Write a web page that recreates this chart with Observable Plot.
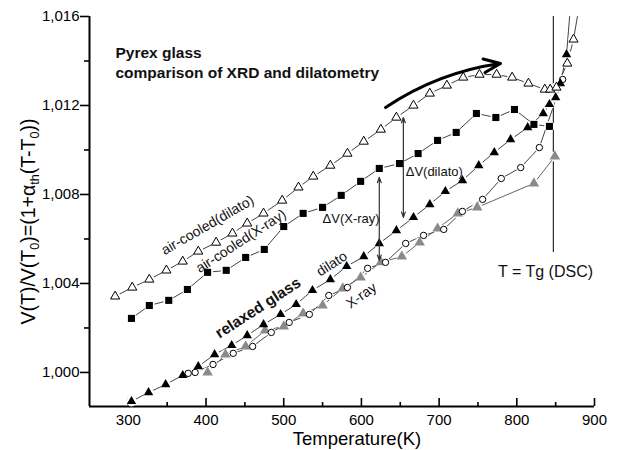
<!DOCTYPE html>
<html>
<head>
<meta charset="utf-8">
<script src="https://cdn.jsdelivr.net/npm/d3@7"></script>
<script src="https://cdn.jsdelivr.net/npm/@observablehq/plot@0.6"></script>
<style>
  html, body { margin: 0; padding: 0; background: #fff; }
  #chart svg { display: block; }
</style>
</head>
<body>
<div id="chart"></div>
<script>
// ---------- axes ----------
const xTicks = [300, 400, 500, 600, 700, 800, 900];
const xMinorTicks = [350, 450, 550, 650, 750, 850];
const yTicks = [1.000, 1.004, 1.008, 1.012, 1.016];
const yTickLabels = ["1,000", "1,004", "1,008", "1,012", "1,016"];
const yMinorTicks = [1.002, 1.006, 1.010, 1.014];
const xDomain = [250, 900];
const yDomain = [0.99847, 1.016];
const xLabel = "Temperature(K)";
const yLabelParts = [["V(T)/V(T", 0], ["0", 1], [")=(1+α", 0], ["th", 1], ["(T-T", 0], ["0", 1], ["))", 0]];

// ---------- series: air-cooled, dilatometry (open triangles) ----------
const airDilatoT = [283, 305, 327, 349, 370, 390, 413, 434, 453, 474, 498, 519, 538, 560, 582, 603, 625, 645, 667, 688, 710, 731, 752, 774, 794, 815, 836, 843, 851, 865, 873];
const airDilatoV = [1.00342, 1.00382, 1.00418, 1.00459, 1.00499, 1.00544, 1.00584, 1.00625, 1.00670, 1.00715, 1.00773, 1.00832, 1.00881, 1.00930, 1.00984, 1.01038, 1.01092, 1.01146, 1.01200, 1.01254, 1.01290, 1.01326, 1.01339, 1.01339, 1.01326, 1.01299, 1.01272, 1.01272, 1.01281, 1.01389, 1.01497];
const airDilatoTailT = [878];
const airDilatoTailV = [1.016];

// ---------- series: air-cooled, X-ray (filled squares) ----------
const airXrayT = [304, 327, 352, 376, 402, 426, 451, 475, 500, 525, 550, 574, 599, 623, 649, 673, 698, 722, 748, 773, 797, 822, 842];
const airXrayV = [1.00243, 1.00301, 1.00324, 1.00373, 1.00450, 1.00459, 1.00517, 1.00553, 1.00656, 1.00715, 1.00742, 1.00796, 1.00859, 1.00917, 1.00939, 1.00984, 1.01043, 1.01079, 1.01164, 1.01146, 1.01182, 1.01115, 1.01106];

// ---------- series: relaxed glass, dilatometry (filled triangles) ----------
const relDilatoT = [304, 326, 348, 370, 390, 411, 433, 453, 474, 496, 516, 537, 560, 581, 603, 623, 645, 667, 688, 708, 730, 751, 771, 792, 814, 834, 842, 850, 856, 864];
const relDilatoV = [0.99870, 0.99910, 0.99946, 0.99987, 1.00027, 1.00081, 1.00122, 1.00166, 1.00216, 1.00261, 1.00306, 1.00369, 1.00418, 1.00477, 1.00521, 1.00580, 1.00638, 1.00697, 1.00755, 1.00814, 1.00863, 1.00930, 1.00989, 1.01047, 1.01101, 1.01164, 1.01205, 1.01236, 1.01299, 1.01429];
const relDilatoTailT = [868];
const relDilatoTailV = [1.016];

// ---------- series: relaxed glass, X-ray (open circles) ----------
const relXrayCircT = [377, 386, 409, 435, 460, 484, 507, 533, 558, 582, 608, 631, 657, 680, 706, 730, 756, 780, 805, 829, 859];
const relXrayCircV = [0.99996, 1.00000, 1.00036, 1.00086, 1.00117, 1.00180, 1.00225, 1.00261, 1.00346, 1.00382, 1.00468, 1.00495, 1.00580, 1.00616, 1.00643, 1.00724, 1.00778, 1.00872, 1.00921, 1.01011, 1.01317];

// ---------- series: relaxed glass, X-ray (grey triangles) ----------
const relXrayTriT = [402, 425, 451, 476, 500, 525, 550, 576, 599, 625, 652, 675, 698, 724, 749, 822, 849];
const relXrayTriV = [1.00000, 1.00081, 1.00117, 1.00189, 1.00207, 1.00265, 1.00301, 1.00378, 1.00427, 1.00495, 1.00521, 1.00584, 1.00647, 1.00715, 1.00742, 1.00850, 1.00971];

// ---------- annotations ----------
const tgT = 847;
const tgLineV = [1.00539, 1.016];
const deltaArrowT = [623, 654];
const deltaArrowTop = [1.00877, 1.01146];
const deltaArrowBottom = [1.00504, 1.00697];
const curvedArrowT = [631, 779];
const curvedArrowV = [1.01191, 1.01389];
const titleText = "Pyrex glass\ncomparison of XRD and dilatometry";
const curveLabelText = ["air-cooled(dilato)", "air-cooled(X-ray)", "dilato", "X-ray"];
const curveLabelT = [402, 445, 562, 600];
const curveLabelV = [1.00662, 1.00590, 1.00488, 1.00346];
const curveLabelAngle = [-30, -33, -33, -36];
const relaxedLabel = {text: "relaxed glass", T: 467, V: 1.00290, angle: -33};
const deltaLabelText = ["ΔV(X-ray)", "ΔV(dilato)"];
const deltaLabelT = [550, 657];
const deltaLabelV = [1.00692, 1.00903];
const tgLabel = {text: "T = Tg (DSC)", T: 837, V: 1.00450};

// ---------- build ----------
const FONT = '"Liberation Sans", Arial, Helvetica, sans-serif';
const rows = (T, V) => T.map((t, i) => ({T: t, V: V[i]}));
const sAirDil = rows(airDilatoT, airDilatoV);
const sAirDilLine = sAirDil.concat(rows(airDilatoTailT, airDilatoTailV));
const sAirX = rows(airXrayT, airXrayV);
const sRelDil = rows(relDilatoT, relDilatoV);
const sRelDilLine = sRelDil.concat(rows(relDilatoTailT, relDilatoTailV));
const sCirc = rows(relXrayCircT, relXrayCircV);
const sGray = rows(relXrayTriT, relXrayTriV);

const halves = [];
deltaArrowT.forEach((t, i) => {
  const mid = (deltaArrowTop[i] + deltaArrowBottom[i]) / 2;
  halves.push({x1: t, y1: mid, x2: t, y2: deltaArrowTop[i]});
  halves.push({x1: t, y1: mid, x2: t, y2: deltaArrowBottom[i]});
});
const curveLabels = curveLabelText.map((t, i) => ({text: t, T: curveLabelT[i], V: curveLabelV[i], a: curveLabelAngle[i]}));
const deltaLabels = deltaLabelText.map((t, i) => ({text: t, T: deltaLabelT[i], V: deltaLabelV[i]}));
const yLabelPlain = yLabelParts.map(p => p[0]).join("");

const lineStroke = "#444";
const halo = (data, r) => Plot.dot(data, {x: "T", y: "V", r, fill: "white", stroke: "none"});

const chart = Plot.plot({
  width: 624,
  height: 450,
  marginLeft: 89,
  marginRight: 30,
  marginTop: 16,
  marginBottom: 44,
  x: {domain: xDomain},
  y: {domain: yDomain},
  style: {fontFamily: FONT, fontSize: "15px", color: "#000", background: "#fff", overflow: "visible"},
  marks: [
    // axes
    Plot.axisY({ticks: yMinorTicks, tickSize: 5, tickFormat: () => "", label: null, strokeWidth: 1.6}),
    Plot.axisY({ticks: yTicks, tickSize: 9, tickPadding: 1, tickFormat: d => yTickLabels[yTicks.indexOf(d)], label: null, strokeWidth: 1.6, fontSize: 15}),
    Plot.axisX({ticks: xMinorTicks, tickSize: -4, tickFormat: () => "", label: null, strokeWidth: 1.6}),
    Plot.axisX({ticks: xTicks, tickSize: -8, tickPadding: 16, tickFormat: d => String(d), label: null, strokeWidth: 1.6, fontSize: 15}),
    Plot.ruleY([yDomain[0]], {strokeWidth: 2}),
    Plot.ruleX([xDomain[0]], {strokeWidth: 2}),
    Plot.text([xLabel], {text: d => d, frameAnchor: "bottom", textAnchor: "middle", dx: 15, dy: 25, lineAnchor: "top", fontSize: 18.5}),
    Plot.text([yLabelPlain], {text: d => d, frameAnchor: "left", textAnchor: "middle", lineAnchor: "middle", rotate: -90, dx: -61, dy: 10, fontSize: 19.5}),

    // Tg line
    Plot.ruleX([tgT], {y1: tgLineV[0], y2: tgLineV[1], stroke: "#000", strokeWidth: 1}),

    // connecting lines
    Plot.line(sAirDilLine, {x: "T", y: "V", stroke: lineStroke, strokeWidth: 1}),
    Plot.line(sAirX, {x: "T", y: "V", stroke: lineStroke, strokeWidth: 1}),
    Plot.line(sRelDilLine, {x: "T", y: "V", stroke: lineStroke, strokeWidth: 1}),
    Plot.line(sCirc, {x: "T", y: "V", stroke: lineStroke, strokeWidth: 1}),
    Plot.line(sGray, {x: "T", y: "V", stroke: "#666", strokeWidth: 1}),

    // gaps around markers
    halo(sAirDil, 5.2), halo(sAirX, 5.4), halo(sRelDil, 5), halo(sCirc, 4.6), halo(sGray, 5.2),

    // markers
    Plot.dot(sGray, {x: "T", y: "V", symbol: "triangle", r: 3.9, fill: "#8a8a8a", stroke: "none"}),
    Plot.dot(sCirc, {x: "T", y: "V", symbol: "circle", r: 3.2, fill: "white", stroke: "#000", strokeWidth: 1}),
    Plot.dot(sRelDil, {x: "T", y: "V", symbol: "triangle", r: 3.5, fill: "#000", stroke: "none"}),
    Plot.dot(sAirX, {x: "T", y: "V", symbol: "square", r: 4, fill: "#000", stroke: "none"}),
    Plot.dot(sAirDil, {x: "T", y: "V", symbol: "triangle", r: 3.4, fill: "white", stroke: "#000", strokeWidth: 1}),

    // delta V arrows
    Plot.arrow(halves, {x1: "x1", y1: "y1", x2: "x2", y2: "y2", stroke: "#333", strokeWidth: 1.2, headLength: 7, headAngle: 40}),

    // curved arrow
    Plot.arrow([{x1: curvedArrowT[0], y1: curvedArrowV[0], x2: curvedArrowT[1], y2: curvedArrowV[1]}],
      {x1: "x1", y1: "y1", x2: "x2", y2: "y2", bend: 13, stroke: "#000", strokeWidth: 3, headLength: 9, headAngle: 45}),

    // texts
    Plot.text([titleText], {text: d => d, frameAnchor: "top-left", dx: 26, dy: 27, lineAnchor: "top", textAnchor: "start", fontSize: 15.5, fontWeight: "bold", lineHeight: 1.29, fill: "#111"}),
    Plot.text(curveLabels, {x: "T", y: "V", text: "text", rotate: "a", fontSize: 14, fill: "#111"}),
    Plot.text([relaxedLabel], {x: "T", y: "V", text: "text", rotate: relaxedLabel.angle, fontSize: 15.5, fontWeight: "bold", fill: "#111"}),
    Plot.text(deltaLabels, {x: "T", y: "V", text: "text", textAnchor: "start", fontSize: 13, fill: "#111"}),
    Plot.text([tgLabel], {x: "T", y: "V", text: "text", fontSize: 16, fill: "#111"})
  ]
});

// subscripts in the y-axis label
chart.querySelectorAll("text").forEach(t => {
  if (t.textContent === yLabelPlain) {
    while (t.firstChild) t.removeChild(t.firstChild);
    let prevSub = false;
    yLabelParts.forEach(([s, sub]) => {
      const ts = document.createElementNS("http://www.w3.org/2000/svg", "tspan");
      ts.textContent = s;
      if (sub) { ts.setAttribute("font-size", "0.65em"); ts.setAttribute("dy", prevSub ? "0" : "0.35em"); }
      else if (prevSub) { ts.setAttribute("dy", "-0.23em"); }
      prevSub = !!sub;
      t.appendChild(ts);
    });
  }
});

document.getElementById("chart").appendChild(chart);
</script>
</body>
</html>
